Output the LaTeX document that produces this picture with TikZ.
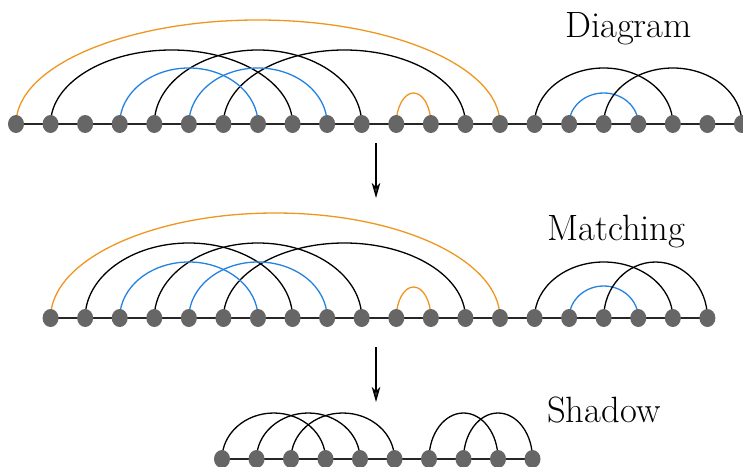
\documentclass[tikz,border=0pt]{standalone}
\usetikzlibrary{shapes.geometric,arrows.meta,calc}
\definecolor{nodegray}{RGB}{102,102,102}
\definecolor{arcorange}{RGB}{238,150,30}
\definecolor{arcblue}{RGB}{35,130,225}
\definecolor{tipfill}{RGB}{45,72,72}
% elliptical arc from node #2 to node #3, height #4 (pt) above the node centres
\newcommand\harc[4]{\draw[#1] let \p1=(#2.center), \p2=(#3.center) in
  (#2.center) arc[start angle=180,end angle=0,x radius={(\x2-\x1)/2},y radius=#4pt];}
\begin{document}
\begin{tikzpicture}[x=1pt,y=-1pt,
  dot/.style={ellipse,fill=nodegray,inner sep=0pt,minimum width=16pt,minimum height=18pt},
  baseline/.style={draw=black!85,line width=1.6pt},
  blk/.style={draw=black,line width=1.3pt},
  blu/.style={draw=arcblue,line width=1.3pt},
  org/.style={draw=arcorange,line width=1.3pt},
  flow/.style={draw=black,line width=1.4pt,-{Stealth[length=15pt,width=8.5pt,inset=4pt,fill=tipfill]}},
  lbl/.style={anchor=base west,inner sep=0pt,font=\fontsize{36.6}{40}\selectfont}]
\useasboundingbox (0,0) rectangle (743,466);

% ---- node positions ----
\foreach \i in {0,...,21} { \coordinate (pa\i) at ({16+34.57*\i},124); }
\foreach \i in {1,...,20} { \coordinate (pb\i) at ({16+34.57*\i},318); }
\foreach \i in {0,...,9}  { \coordinate (pc\i) at ({222+34.5*\i},459); }
\foreach \i in {0,...,21} { \node[dot,opacity=0] (a\i) at (pa\i) {}; }
\foreach \i in {1,...,20} { \node[dot,opacity=0] (b\i) at (pb\i) {}; }
\foreach \i in {0,...,9}  { \node[dot,opacity=0] (c\i) at (pc\i) {}; }

% ---- base lines ----
\draw[baseline] (a0.center) -- (a21.center);
\draw[baseline] (b1.center) -- (b20.center);
\draw[baseline] (c0.center) -- (c9.center);

% ---- row 1 arcs ----
\harc{org}{a0}{a14}{104}
\harc{blk}{a1}{a8}{74}
\harc{blk}{a4}{a10}{74}
\harc{blk}{a6}{a13}{74}
\harc{blu}{a3}{a7}{56}
\harc{blu}{a5}{a9}{56}
\harc{org}{a11}{a12}{31}
\harc{blk}{a15}{a19}{56}
\harc{blu}{a16}{a18}{31}
\harc{blk}{a17}{a21}{56}

% ---- row 2 arcs ----
\harc{org}{b1}{b14}{105}
\harc{blk}{b2}{b8}{75}
\harc{blk}{b4}{b10}{75}
\harc{blk}{b6}{b13}{75}
\harc{blu}{b3}{b7}{56}
\harc{blu}{b5}{b9}{56}
\harc{org}{b11}{b12}{31}
\harc{blk}{b15}{b19}{56}
\harc{blu}{b16}{b18}{32}
\harc{blk}{b17}{b20}{56}

% ---- row 3 arcs ----
\harc{blk}{c0}{c3}{46}
\harc{blk}{c1}{c4}{46}
\harc{blk}{c2}{c5}{46}
\harc{blk}{c6}{c8}{46}
\harc{blk}{c7}{c9}{46}

% ---- visible nodes ----
\foreach \i in {0,...,21} { \node[dot] at (pa\i) {}; }
\foreach \i in {1,...,20} { \node[dot] at (pb\i) {}; }
\foreach \i in {0,...,9}  { \node[dot] at (pc\i) {}; }

% ---- arrows ----
\coordinate (s1) at (376,143);
\coordinate (e1) at (376,198);
\coordinate (s2) at (376,347);
\coordinate (e2) at (376,402);
\draw[flow] (s1) -- (e1);
\draw[flow] (s2) -- (e2);

% ---- labels ----
\node[lbl] (ldiag) at (565,37) {Diagram};
\node[lbl] (lmatch) at (547,240) {Matching};
\node[lbl] (lshadow) at (547,422) {Shadow};
\end{tikzpicture}
\end{document}
